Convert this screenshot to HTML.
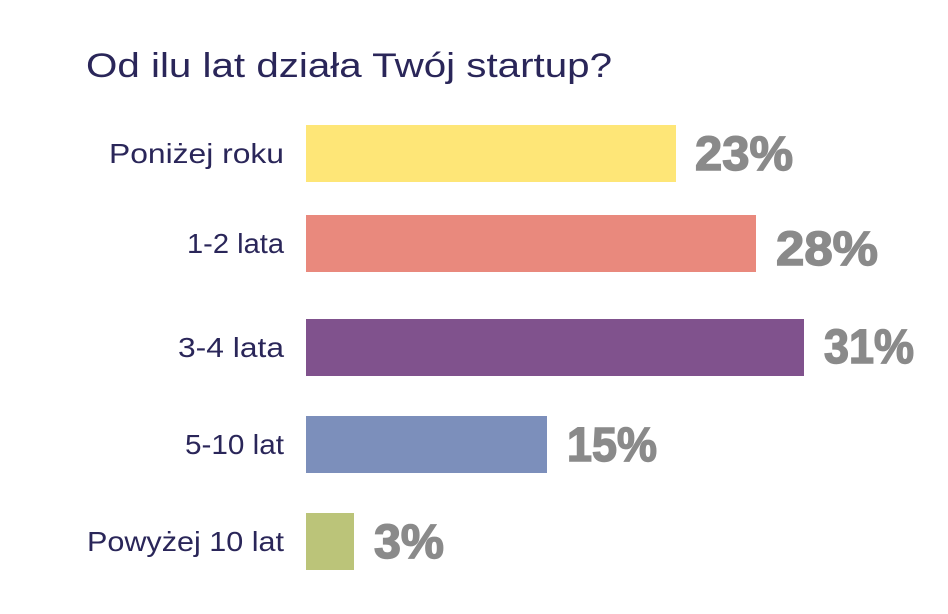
<!DOCTYPE html>
<html><head><meta charset="utf-8"><style>html,body{margin:0;padding:0;background:#fff;}svg{display:block}</style></head>
<body>
<svg width="948" height="614" xmlns="http://www.w3.org/2000/svg" font-family="Liberation Sans, sans-serif">
<rect width="948" height="614" fill="#fff"/>
<text x="86" y="77" font-size="34" fill="#2a2659" textLength="526" lengthAdjust="spacingAndGlyphs">Od ilu lat działa Twój startup?</text>
<g font-size="28" fill="#2a2659">
<text x="109" y="163" textLength="175" lengthAdjust="spacingAndGlyphs">Poniżej roku</text>
<text x="187" y="253" textLength="97" lengthAdjust="spacingAndGlyphs">1-2 lata</text>
<text x="178" y="357" textLength="106" lengthAdjust="spacingAndGlyphs">3-4 lata</text>
<text x="185" y="454" textLength="99" lengthAdjust="spacingAndGlyphs">5-10 lat</text>
<text x="87" y="551" textLength="197" lengthAdjust="spacingAndGlyphs">Powyżej 10 lat</text>
</g>
<rect x="306" y="125" width="370" height="57" fill="#fee677"/>
<rect x="306" y="215" width="450" height="57" fill="#e9897d"/>
<rect x="306" y="319" width="498" height="57" fill="#80528d"/>
<rect x="306" y="416" width="241" height="57" fill="#7c8fbb"/>
<rect x="306" y="513" width="48" height="57" fill="#bbc479"/>
<g font-size="48" font-weight="bold" fill="#8a8a8a" stroke="#8a8a8a" stroke-width="1.5">
<text x="695" y="170" textLength="98" lengthAdjust="spacingAndGlyphs">23%</text>
<text x="776" y="265" textLength="102" lengthAdjust="spacingAndGlyphs">28%</text>
<text x="824" y="363" textLength="90" lengthAdjust="spacingAndGlyphs">31%</text>
<text x="567" y="461" textLength="90" lengthAdjust="spacingAndGlyphs">15%</text>
<text x="374" y="558" textLength="70" lengthAdjust="spacingAndGlyphs">3%</text>
</g>
</svg>
</body></html>
